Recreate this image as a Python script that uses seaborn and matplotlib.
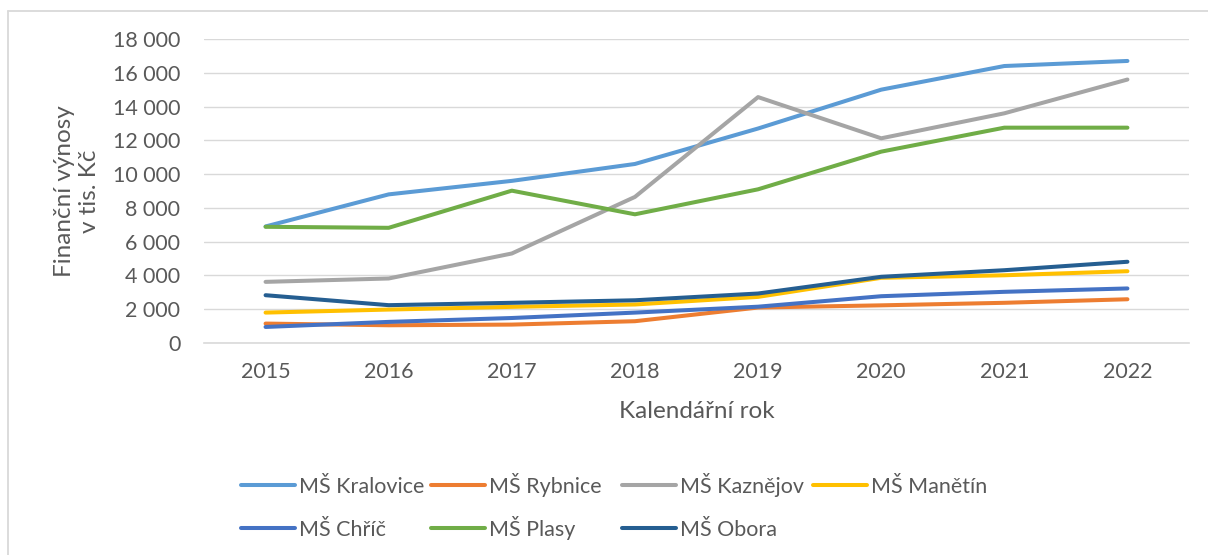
import pandas as pd
import matplotlib.pyplot as plt
import seaborn as sns
from matplotlib.lines import Line2D
from matplotlib.ticker import FixedLocator, FuncFormatter

# data (tis. Kč)
years = ['2015', '2016', '2017', '2018', '2019', '2020', '2021', '2022']
kralovice = [6900, 8800, 9600, 10600, 12700, 15000, 16400, 16700]
rybnice = [1150, 1050, 1090, 1290, 2100, 2230, 2380, 2590]
kaznejov = [3620, 3820, 5300, 8650, 14560, 12120, 13600, 15600]
manetin = [1800, 1980, 2140, 2280, 2730, 3860, 4010, 4250]
chric = [950, 1250, 1480, 1800, 2150, 2770, 3030, 3230]
plasy = [6880, 6820, 9020, 7620, 9100, 11330, 12750, 12750]
obora = [2830, 2240, 2380, 2530, 2930, 3920, 4310, 4810]

series_names = ['MŠ Kralovice', 'MŠ Rybnice', 'MŠ Kaznějov', 'MŠ Manětín',
                'MŠ Chříč', 'MŠ Plasy', 'MŠ Obora']
series_values = [kralovice, rybnice, kaznejov, manetin, chric, plasy, obora]
colors = ['#5B9BD5', '#ED7D31', '#A5A5A5', '#FFC000', '#4472C4', '#70AD47', '#255E91']

rows = []
for name, vals in zip(series_names, series_values):
    for i, v in enumerate(vals):
        rows.append({'pos': i, 'rok': years[i], 'skola': name, 'hodnota': v})
df = pd.DataFrame(rows)

sns.set_style('white')
plt.rcParams['font.family'] = ['Lato', 'DejaVu Sans']
text_col = '#595959'
grid_col = '#D9D9D9'
fs = 15.5

W, H = 1208, 555
fig = plt.figure(figsize=(W / 100, H / 100), dpi=100)
ax = fig.add_axes([204 / W, 1 - 343 / H, 985 / W, 304 / H])

sns.lineplot(data=df, x='pos', y='hodnota', hue='skola', hue_order=series_names,
             palette=colors, linewidth=2.9, ax=ax, legend=False,
             solid_capstyle='round', solid_joinstyle='round')

ax.set_xlim(-0.5, len(years) - 0.5)
ax.set_ylim(0, 18000)
ax.set_yticks(range(0, 18001, 2000))
ax.yaxis.set_major_formatter(FuncFormatter(lambda v, p: f'{v:,.0f}'.replace(',', ' ')))
ax.grid(axis='y', color=grid_col, linewidth=1.0)
ax.set_axisbelow(True)

# category ticks between categories, labels at the centres
ax.xaxis.set_major_locator(FixedLocator([i - 0.5 for i in range(len(years) + 1)]))
ax.xaxis.set_minor_locator(FixedLocator(list(range(len(years)))))
ax.xaxis.set_major_formatter(FuncFormatter(lambda v, p: ''))
ax.set_xticklabels(years, minor=True)
ax.tick_params(axis='x', which='major', length=5, width=1, color=grid_col, direction='out')
ax.tick_params(axis='x', which='minor', length=0, pad=14, labelsize=fs, labelcolor=text_col)
ax.tick_params(axis='y', length=0, pad=17, labelsize=fs, labelcolor=text_col)

for s in ['top', 'right', 'left']:
    ax.spines[s].set_visible(False)
ax.spines['bottom'].set_color(grid_col)
ax.spines['bottom'].set_linewidth(1.2)

ax.set_xlabel('Kalendářní rok', fontsize=17.5, color=text_col, va='center')
ax.xaxis.set_label_coords(0.5, (343 - 412) / 304)
ax.set_ylabel('Finanční výnosy\nv tis. Kč', fontsize=17.5, color=text_col,
              va='center', ma='center', linespacing=1.2)
ax.yaxis.set_label_coords((77 - 204) / 985, 0.5)

# legend drawn entry by entry so rows and columns line up like the original
leg_x = [241, 431, 622, 813, 241, 431, 622]
leg_y = [485, 485, 485, 485, 528, 528, 528]
for name, c, lx, ly in zip(series_names, colors, leg_x, leg_y):
    fy = 1 - ly / H
    fig.add_artist(Line2D([lx / W, (lx + 54) / W], [fy, fy], transform=fig.transFigure,
                          color=c, lw=2.9, solid_capstyle='round'))
    fig.text((lx + 58) / W, fy - 8 / H, name, fontsize=fs, color=text_col,
             ha='left', va='baseline')

# outer chart frame (only top and left edges visible)
fig.add_artist(Line2D([8 / W, 8 / W], [0, 1 - 11 / H], transform=fig.transFigure,
                      color=grid_col, lw=1.3))
fig.add_artist(Line2D([8 / W, 1], [1 - 11 / H, 1 - 11 / H], transform=fig.transFigure,
                      color=grid_col, lw=1.3))

fig.savefig('out.png', dpi=100)
